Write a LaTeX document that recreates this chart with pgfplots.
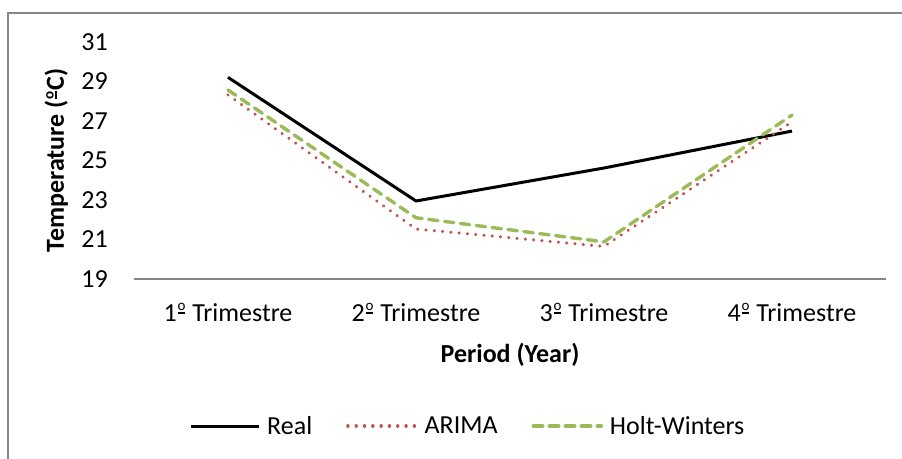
\documentclass[border=0pt]{standalone}
\usepackage{fontspec}
\setmainfont{Carlito}
\usepackage{pgfplots}
\pgfplotsset{compat=1.18}

\definecolor{arimared}{HTML}{C0504D}
\definecolor{hwgreen}{HTML}{9BBB59}
\definecolor{framegray}{HTML}{868686}

\newcommand{\chartfont}{\fontsize{26bp}{31bp}\selectfont}
% masculine ordinal drawn as a raised, underlined small o
\newcommand{\ordo}{\kern0.8bp\raisebox{10.3bp}{\fontsize{15bp}{15bp}\selectfont
  \vtop{\hbox{o}\kern1.5bp\hrule height 1.8bp}}\kern1bp}

\begin{document}
\begin{tikzpicture}
% canvas and chart-area frame
\path[use as bounding box] (0bp,0bp) rectangle (902bp,459bp);
\draw[framegray, line width=1.2bp] (8bp,0bp) -- (8bp,446bp) -- (902bp,446bp);

\begin{axis}[
  at={(134bp,180bp)}, anchor=south west,
  scale only axis, width=752bp, height=237bp,
  xmin=-0.5, xmax=3.5, ymin=19, ymax=31,
  xtick={0,1,2,3},
  xticklabels={{1\ordo{} Trimestre},{2\ordo{} Trimestre},{3\ordo{} Trimestre},{4\ordo{} Trimestre}},
  ytick={19,21,23,25,27,29,31},
  axis x line=bottom, axis y line=left,
  axis line style={-},
  x axis line style={draw=framegray, line width=1.3bp},
  y axis line style={draw=none},
  major tick length=0pt, tick style={draw=none},
  /pgf/number format/assume math mode=true,
  ticklabel style={font=\chartfont, inner sep=0pt},
  yticklabel style={anchor=east, xshift=-26bp},
  xticklabel style={anchor=base, yshift=-42bp},
  xlabel={Period (Year)}, ylabel={Temperature (\ordo C)},
  label style={font=\chartfont\bfseries, inner sep=0pt},
  xlabel style={at={(axis description cs:0.5,-0.352)}, anchor=base},
  ylabel style={at={(axis description cs:-0.0931,0.5)}, anchor=base},
  legend columns=3,
  legend style={draw=none, fill=none, inner sep=0pt, font=\chartfont,
    nodes={inner sep=0pt},
    at={(0.0731,-0.6203)}, anchor=west,
    /tikz/every odd column/.style={column sep=7bp},
    /tikz/every even column/.style={column sep=34bp}},
  legend cell align=left,
  legend image code/.code={\draw[#1] (0bp,0bp) -- (68bp,0bp);},
  line join=round,
]
\addplot[black, line width=3bp] coordinates {
  (0,29.21) (1,22.95) (2,24.62) (3,26.49)};
\addlegendentry{Real}
\addplot[arimared, line width=3.4bp, line cap=round,
  dash pattern=on 0.01bp off 8.3bp] coordinates {
  (0,28.32) (1,21.53) (2,20.65) (3,26.96)};
\addlegendentry{ARIMA}
\addplot[hwgreen, line width=3.4bp, line cap=round,
  dash pattern=on 9.5bp off 6.5bp] coordinates {
  (0,28.57) (1,22.10) (2,20.88) (3,27.30)};
\addlegendentry{Holt-Winters}
\end{axis}
\end{tikzpicture}
\end{document}
